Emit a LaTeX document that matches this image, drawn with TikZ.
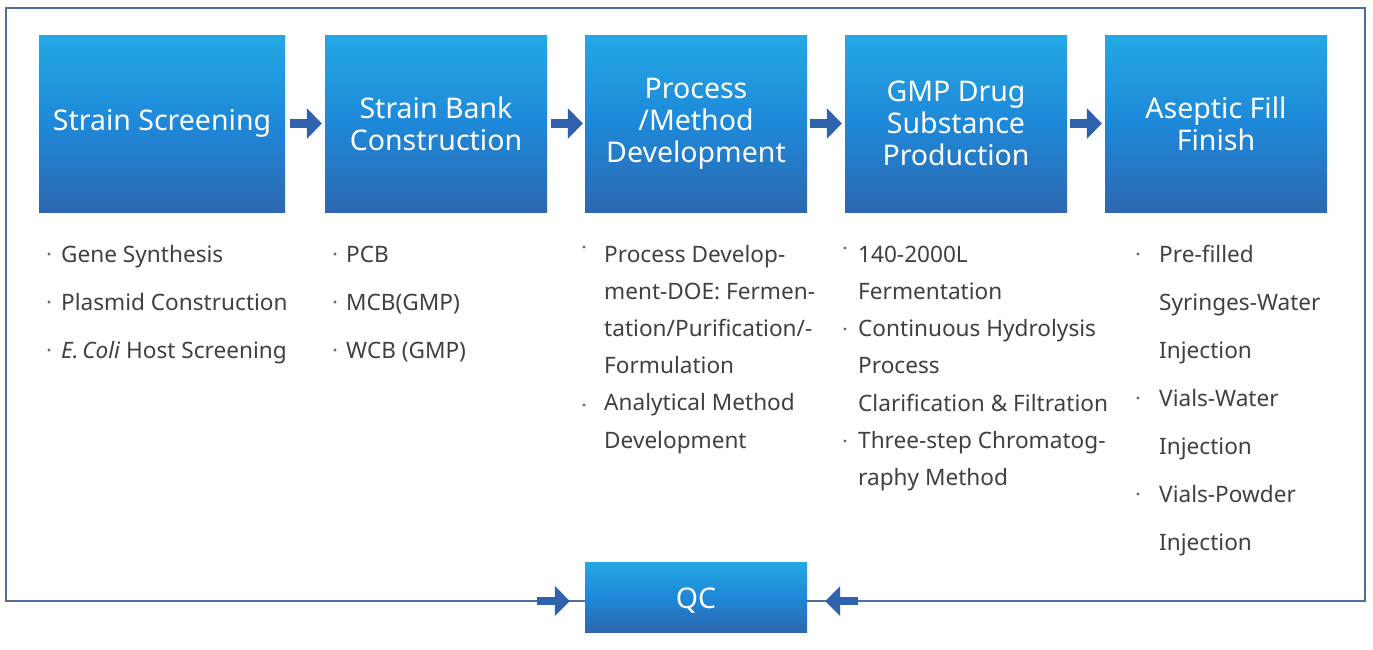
\documentclass[tikz,border=0pt]{standalone}
\usepackage{fontspec}
\setmainfont{Noto Sans}
\usetikzlibrary{arrows.meta}
\definecolor{topblue}{RGB}{36,168,228}
\definecolor{midblue}{RGB}{30,136,216}
\definecolor{botblue}{RGB}{45,104,176}
\definecolor{arrowblue}{RGB}{46,98,172}
\definecolor{framecol}{RGB}{78,112,158}
\definecolor{txt}{RGB}{64,64,64}
\begin{document}
\begin{tikzpicture}[x=1pt,y=-1pt,
  stage/.style={rectangle, inner sep=0pt, minimum width=222, minimum height=177,
    top color=topblue, bottom color=botblue, middle color=midblue,
    text=white, align=center, font=\fontsize{28.5}{32}\selectfont},
  blockarrow/.style={arrowblue, line width=9pt, -{Triangle[width=30pt,length=15pt]}},
  item/.style={anchor=base west, inner sep=0pt, text=txt, font=\fontsize{22.6}{26}\selectfont},
  dot/.style={circle, fill=txt!80, inner sep=0pt, minimum size=3.2pt}]
\useasboundingbox (0,0) rectangle (1373,649);

% stages
\node[stage, minimum width=246] (b1) at (162,123.5) {Strain Screening};
\node[stage] (b2) at (436,123.5) {Strain Bank\\Construction};
\node[stage] (b3) at (696,123.5) {Process\\/Method\\Development};
\node[stage] (b4) at (956,123.5) {GMP Drug\\Substance\\Production};
\node[stage] (b5) at (1216,123.5) {Aseptic Fill\\Finish};
\node[stage, minimum height=70] (qc) at (696,597) {\raisebox{-4pt}[\height][\depth]{QC}};
\coordinate (qw) at ([yshift=-4pt]qc.west);
\coordinate (qe) at ([yshift=-4pt]qc.east);

% frame
\draw[framecol, line width=1.5pt] (qw) -- (6,601) -- (6,8) -- (1365,8) -- (1365,601) -- (qe);

% arrows
\draw[blockarrow] ([xshift=5pt]b1.east) -- ([xshift=-3pt]b2.west);
\draw[blockarrow] ([xshift=4pt]b2.east) -- ([xshift=-2pt]b3.west);
\draw[blockarrow] ([xshift=3pt]b3.east) -- ([xshift=-3pt]b4.west);
\draw[blockarrow] ([xshift=3pt]b4.east) -- ([xshift=-3pt]b5.west);
\draw[blockarrow, line width=8pt, -{Triangle[width=29pt,length=15pt]}] ([xshift=-48pt]qw) -- ([xshift=-15pt]qw);
\draw[blockarrow, line width=8pt, -{Triangle[width=29pt,length=15pt]}] ([xshift=51pt]qe) -- ([xshift=18pt]qe);

% column 1
\foreach \t [count=\i from 0] in {Gene Synthesis, Plasmid Construction, {\textit{E.\,Coli\/} Host Screening}} {
  \node[item] (c1l\i) at (61,{262+48*\i}) {\t};
  \node[dot] (c1b\i) at (49,{254+48*\i}) {};
}
% column 2
\foreach \t [count=\i from 0] in {PCB, MCB(GMP), WCB (GMP)} {
  \node[item] (c2l\i) at (346,{262+48*\i}) {\t};
  \node[dot] (c2b\i) at (335,{254+48*\i}) {};
}
% column 3
\foreach \t [count=\i from 0] in {Process Develop-, ment-DOE: Fermen-, tation/Purification/-, Formulation, Analytical Method, Development}
  \node[item] (c3l\i) at (604,{262+37.2*\i}) {\t};
\node[dot] (c3b0) at (584,247) {};
\node[dot] (c3b1) at (584,405) {};
% column 4
\foreach \t [count=\i from 0] in {140-2000L, Fermentation, Continuous Hydrolysis, Process, {Clarification \& Filtration}, Three-step Chromatog-, raphy Method}
  \node[item] (c4l\i) at (858,{262+37.3*\i}) {\t};
\node[dot] (c4b0) at (845,248) {};
\node[dot] (c4b1) at (845,329) {};
\node[dot] (c4b2) at (845,441) {};
% column 5
\foreach \t [count=\i from 0] in {Pre-filled, Syringes-Water, Injection, Vials-Water, Injection, Vials-Powder, Injection}
  \node[item] (c5l\i) at (1159,{262+48*\i}) {\t};
\node[dot] (c5b0) at (1138,254) {};
\node[dot] (c5b1) at (1138,398) {};
\node[dot] (c5b2) at (1138,494) {};
\end{tikzpicture}
\end{document}
